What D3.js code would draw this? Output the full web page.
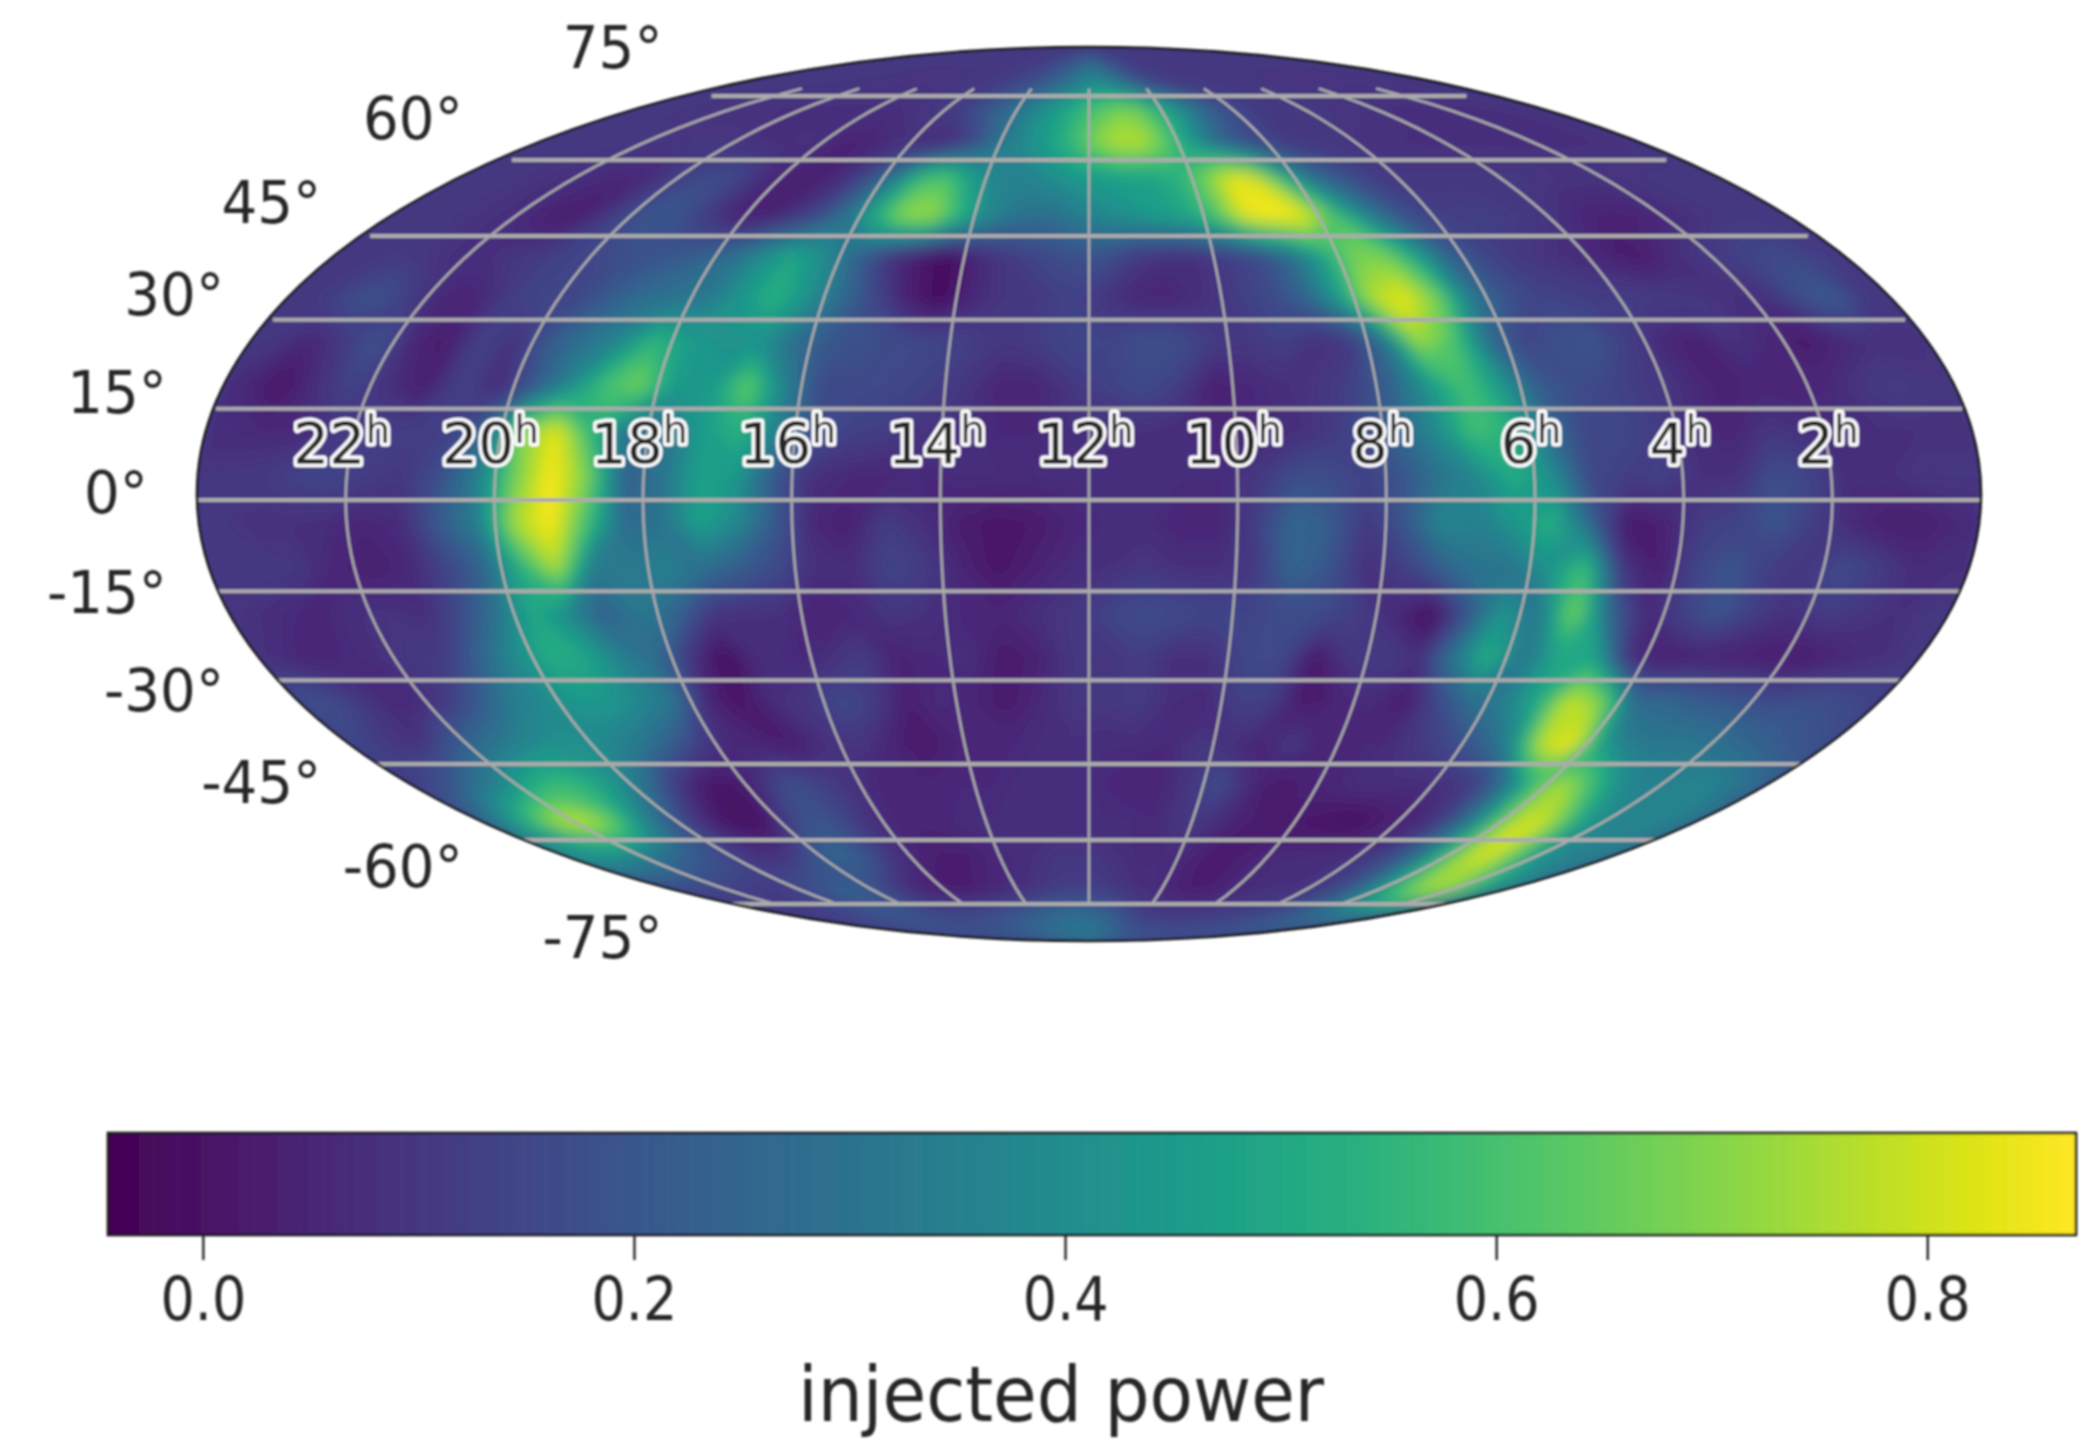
<!DOCTYPE html>
<html>
<head>
<meta charset="utf-8">
<script src="https://cdn.jsdelivr.net/npm/d3@7"></script>
<style>
  body { margin: 0; background: #fff; }
  text { font-family: "DejaVu Sans", sans-serif; fill: #262626; }
</style>
</head>
<body>
<svg id="chart"></svg>
<script>
const width = 2100,
  height = 1441;

// right ascension labels, left to right
const hourTicks = [22, 20, 18, 16, 14, 12, 10, 8, 6, 4, 2];
const latTicks = [75, 60, 45, 30, 15, 0, -15, -30, -45, -60, -75];
const colorTicks = [0, 0.2, 0.4, 0.6, 0.8];
const colorDomain = [-0.044, 0.869];

// injected power x100. rows go 86.25 to -86.25 deg (7.5 deg steps),
// columns go 23.75h to 0.25h (half hour steps)
const power = [
  [10,10,10,10,10,10,10,10,10,10,10,10,10,10,10,10,12,12,14,16,18,20,22,24,24,22,18,15,12,12,12,11,11,11,10,10,10,10,10,10,10,10,10,10,10,10,10,10],
  [10,10,10,10,10,10,10,9,9,9,9,9,9,9,10,10,10,12,14,16,20,24,30,36,40,34,28,20,14,12,10,10,10,10,10,10,10,10,9,9,9,9,9,9,9,9,9,9],
  [10,10,9,9,8,8,8,8,8,8,8,8,8,8,9,10,12,16,22,28,34,42,48,56,62,68,68,58,48,36,26,19,14,11,10,10,10,10,9,9,8,8,8,8,8,8,8,8],
  [10,10,10,10,10,10,10,10,8,8,8,10,5,4,6,8,6,5,12,24,36,42,50,60,72,78,76,64,46,30,20,15,12,10,10,10,8,8,8,8,8,8,8,8,8,8,8,8],
  [10,10,9,8,7,6,5,10,15,17,14,6,4,3,8,18,34,58,62,46,36,36,40,44,46,48,48,54,68,84,80,54,32,22,15,11,10,10,10,10,10,10,9,9,9,10,10,10],
  [10,10,9,8,6,2,4,14,20,20,12,5,3,8,15,30,52,72,74,54,38,30,28,33,38,42,46,50,62,84,87,84,62,40,24,15,12,13,12,10,8,5,4,5,7,9,10,10],
  [10,11,10,8,8,10,12,14,16,18,20,24,28,40,50,40,25,10,2,-2,6,11,15,18,18,11,8,8,12,16,28,48,68,68,48,25,16,11,9,7,5,1,6,10,12,15,16,12],
  [10,15,20,12,5,5,12,15,14,22,28,30,32,44,54,42,28,15,4,-2,6,10,11,13,9,5,5,8,12,16,25,44,76,84,68,33,20,14,13,12,12,12,10,8,8,18,22,10],
  [10,5,10,20,6,2,14,8,22,30,38,56,46,42,42,28,20,18,16,15,13,10,12,15,14,18,18,12,10,13,8,10,30,74,62,28,14,18,20,12,6,3,9,6,2,5,8,8],
  [6,0,8,14,8,3,14,6,20,38,60,68,44,44,66,36,16,16,15,13,10,5,5,10,13,16,12,3,6,8,10,14,25,44,60,44,22,17,14,11,8,4,5,5,6,10,12,10],
  [7,6,6,10,13,12,12,24,68,84,54,28,30,46,54,36,18,13,12,9,8,6,6,8,8,8,7,5,6,7,10,16,26,40,60,54,28,15,15,12,7,5,10,8,7,8,8,8],
  [10,11,13,15,12,10,18,34,66,87,68,22,30,48,44,20,8,6,5,6,7,7,7,7,7,7,7,7,10,17,17,13,20,30,38,52,40,15,12,13,8,8,18,14,7,8,10,10],
  [10,8,8,7,5,7,22,34,74,87,58,26,30,48,38,22,6,3,12,8,3,1,2,5,7,7,5,5,12,26,22,10,20,38,35,44,54,25,1,4,12,14,20,12,6,3,3,6],
  [10,11,10,5,3,6,14,24,52,76,32,32,36,28,22,16,8,7,14,12,5,1,4,7,8,10,8,8,10,25,20,8,12,22,30,30,42,60,10,3,14,20,12,10,17,12,7,8],
  [9,7,5,8,9,7,16,30,50,38,22,32,25,10,8,8,4,6,10,8,6,5,8,10,14,17,16,14,14,17,16,12,6,-2,18,44,30,70,25,6,13,20,12,8,12,10,8,10],
  [8,5,6,8,10,12,25,40,52,50,36,28,10,-2,8,6,8,12,4,6,8,2,4,10,9,12,7,8,15,16,1,10,12,8,32,54,30,50,50,8,3,4,4,3,2,5,7,10],
  [18,15,8,5,10,20,32,38,44,44,38,30,5,0,8,10,16,12,3,7,5,2,6,10,10,12,7,6,13,12,1,5,7,2,15,28,35,50,80,68,26,26,22,20,16,18,17,14],
  [15,10,8,20,28,34,40,42,38,32,24,12,6,5,2,8,10,6,1,4,6,6,7,8,7,7,6,10,8,5,12,5,5,7,10,15,22,36,78,87,44,32,32,32,28,24,20,18],
  [12,18,28,36,50,58,54,42,30,12,2,0,8,18,14,10,6,5,5,6,6,7,7,8,6,5,5,10,18,8,1,4,6,8,8,7,8,12,28,56,76,60,40,35,36,38,32,25],
  [25,42,62,78,80,66,42,25,12,3,-2,1,15,20,15,8,6,5,6,7,7,7,7,7,7,7,6,10,10,5,3,2,1,-1,-1,3,5,10,26,50,76,84,62,42,36,38,36,30],
  [42,44,42,36,28,25,20,18,10,8,10,18,26,24,15,8,4,3,3,5,7,8,10,10,10,8,6,7,5,2,3,5,7,8,8,8,10,16,26,46,68,84,74,52,38,36,36,30],
  [12,14,16,14,12,10,10,12,18,22,25,22,16,10,5,4,2,3,5,6,8,10,12,12,12,10,8,7,5,3,3,5,6,8,8,8,10,14,22,34,50,66,74,78,62,50,40,30],
  [8,10,10,12,12,14,14,16,18,20,20,18,16,14,16,18,18,20,22,24,26,28,30,30,28,25,20,14,12,12,12,12,12,12,13,14,15,18,20,22,26,30,34,32,26,20,14,10],
  [18,18,18,18,18,18,18,18,18,18,20,20,20,20,22,22,25,26,28,28,30,30,30,30,30,30,28,26,24,22,22,20,20,20,20,20,20,20,20,20,18,18,18,18,16,16,16,16]
];

const nx = power[0].length,
  ny = power.length;

const mapCenter = [1089, 500];
const outlineShift = -6; // the outline sits a little above the grid in the original
const mapScale = 892 / (2 * Math.SQRT2);

function mollweideRaw(lambda, phi) {
  let theta = phi;
  if (Math.abs(Math.abs(phi) - Math.PI / 2) > 1e-6) {
    const target = Math.PI * Math.sin(phi);
    for (let i = 0; i < 40; i++) {
      theta -= (2 * theta + Math.sin(2 * theta) - target) / (2 + 2 * Math.cos(2 * theta));
    }
  }
  return [(2 * Math.SQRT2 / Math.PI) * lambda * Math.cos(theta), Math.SQRT2 * Math.sin(theta)];
}

const projection = d3
  .geoProjection(mollweideRaw)
  .scale(mapScale)
  .translate(mapCenter);

const color = d3.scaleSequential(d3.interpolateViridis).domain(colorDomain);

const svg = d3
  .select("#chart")
  .attr("width", width)
  .attr("height", height);

const defs = svg.append("defs");
defs
  .append("filter")
  .attr("id", "soft")
  .attr("x", "-5%")
  .attr("y", "-5%")
  .attr("width", "110%")
  .attr("height", "110%")
  .append("feGaussianBlur")
  .attr("stdDeviation", 1.3);

defs
  .append("filter")
  .attr("id", "smooth")
  .attr("filterUnits", "userSpaceOnUse")
  .attr("x", 100)
  .attr("y", 0)
  .attr("width", 1980)
  .attr("height", 1000)
  .append("feGaussianBlur")
  .attr("stdDeviation", 8);

defs
  .append("clipPath")
  .attr("id", "limb")
  .append("ellipse")
  .attr("cx", mapCenter[0])
  .attr("cy", mapCenter[1] + outlineShift)
  .attr("rx", 892)
  .attr("ry", 447);

/////////////////////////// HEAT MAP ///////////////////////////
// one extra row and column each side so the contours run out to the limb
const padded = [];
for (let j = -1; j <= ny; j++) {
  const row = power[Math.max(0, Math.min(ny - 1, j))];
  for (let i = -1; i <= nx; i++) {
    padded.push(row[Math.max(0, Math.min(nx - 1, i))] / 100);
  }
}

const levelStep = 0.007;
const levels = d3.range(colorDomain[0], colorDomain[1], levelStep);

const lonScale = d3.scaleLinear().domain([1, nx + 1]).range([-179.999, 179.999]).clamp(true);
const latScale = d3.scaleLinear().domain([1, ny + 1]).range([90, -90]).clamp(true);

const gridToMap = d3.geoTransform({
  point: function(x, y) {
    const p = projection([lonScale(x), latScale(y)]);
    this.stream.point(p[0], p[1]);
  }
});

const contours = d3
  .contours()
  .size([nx + 2, ny + 2])
  .thresholds(levels)(padded);

const root = svg.append("g").attr("filter", "url(#soft)");

const heat = root
  .append("g")
  .attr("clip-path", "url(#limb)")
  .append("g")
  .attr("filter", "url(#smooth)");

heat
  .append("rect")
  .attr("x", 100)
  .attr("y", 0)
  .attr("width", 1980)
  .attr("height", 1000)
  .attr("fill", color(0.1));

heat
  .selectAll("path")
  .data(contours)
  .enter()
  .append("path")
  .attr("d", d3.geoPath(gridToMap))
  .attr("fill", d => color(Math.min(d.value + levelStep / 2, colorDomain[1])));

/////////////////////////// GRATICULE ///////////////////////////
const line = d3.line();
const grid = root
  .append("g")
  .attr("clip-path", "url(#limb)")
  .attr("fill", "none")
  .attr("stroke", "#ababab");

grid
  .selectAll(".parallel")
  .data(latTicks)
  .enter()
  .append("path")
  .attr("class", "parallel")
  .attr("stroke-width", 4)
  .attr("d", lat => line(d3.range(-179.999, 180, 5).concat(179.999).map(lon => projection([lon, lat]))));

grid
  .selectAll(".meridian")
  .data(hourTicks)
  .enter()
  .append("path")
  .attr("class", "meridian")
  .attr("stroke-width", 2.6)
  .attr("d", h => line(d3.range(-75, 77.01, 2).map(lat => projection([(12 - h) * 15, lat]))));

root
  .append("ellipse")
  .attr("cx", mapCenter[0])
  .attr("cy", mapCenter[1] + outlineShift)
  .attr("rx", 892)
  .attr("ry", 447)
  .attr("fill", "none")
  .attr("stroke", "#1c1c1c")
  .attr("stroke-width", 2.6);

/////////////////////////// LABELS ///////////////////////////
const hourLabels = root
  .selectAll(".hour")
  .data(hourTicks)
  .enter()
  .append("text")
  .attr("class", "hour")
  .attr("transform", h => {
    const p = projection([(12 - h) * 15, 0]);
    return "translate(" + (p[0] - 4) + ",464)";
  })
  .attr("text-anchor", "middle")
  .attr("font-size", 57)
  .style("stroke", "#fff")
  .style("stroke-width", 7)
  .style("paint-order", "stroke")
  .style("stroke-linejoin", "round");

hourLabels.append("tspan").text(h => h);
hourLabels
  .append("tspan")
  .attr("font-size", 39)
  .attr("dy", -21)
  .text("h");

root
  .selectAll(".lat")
  .data(latTicks)
  .enter()
  .append("text")
  .attr("class", "lat")
  .attr("transform", lat => {
    const limb = projection([-179.999, lat]);
    const y = mapCenter[1] + outlineShift + 1.1 * (limb[1] - mapCenter[1]);
    return "translate(" + (limb[0] - 49) + "," + (y + 19) + ") scale(0.97,1)";
  })
  .attr("text-anchor", "end")
  .attr("font-size", 58)
  .text(lat => lat + "°");

/////////////////////////// COLORBAR ///////////////////////////
const barX = d3.scaleLinear().domain(colorDomain).range([108, 2076]);
const barTop = 1133,
  barBottom = 1235;
const steps = d3.range(256).map(i => colorDomain[0] + ((colorDomain[1] - colorDomain[0]) * i) / 256);
const stepSize = (colorDomain[1] - colorDomain[0]) / 256;

root
  .selectAll(".step")
  .data(steps)
  .enter()
  .append("rect")
  .attr("class", "step")
  .attr("x", d => barX(d))
  .attr("y", barTop)
  .attr("width", d => barX(d + stepSize) - barX(d) + 0.6)
  .attr("height", barBottom - barTop)
  .attr("fill", d => color(d + stepSize / 2));

root
  .append("rect")
  .attr("x", 108)
  .attr("y", barTop)
  .attr("width", 2076 - 108)
  .attr("height", barBottom - barTop)
  .attr("fill", "none")
  .attr("stroke", "#1c1c1c")
  .attr("stroke-width", 2.6);

const axis = root
  .append("g")
  .attr("transform", "translate(0," + barBottom + ")")
  .call(
    d3
      .axisBottom(barX)
      .tickValues(colorTicks)
      .tickSize(25)
      .tickFormat(d3.format(".1f"))
  );
axis.select(".domain").remove();
axis.selectAll("line").attr("stroke", "#262626").attr("stroke-width", 2.4);
axis
  .selectAll("text")
  .attr("font-size", 60)
  .attr("font-family", "DejaVu Sans")
  .attr("x", 0)
  .attr("y", 85)
  .attr("dy", 0)
  .attr("transform", "scale(0.9,1)")
  .style("fill", "#262626");

root
  .append("text")
  .attr("transform", "translate(1061,1421) scale(0.935,1)")
  .attr("text-anchor", "middle")
  .attr("font-size", 76)
  .text("injected power");
</script>
</body>
</html>
